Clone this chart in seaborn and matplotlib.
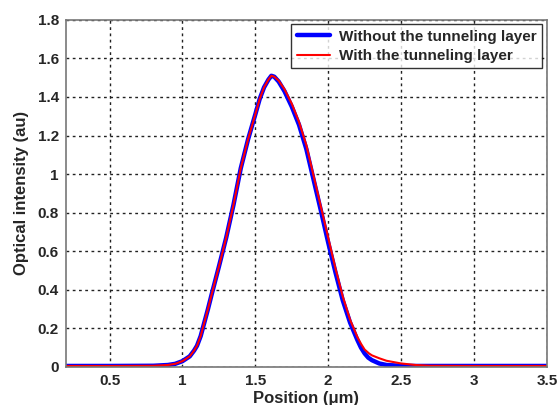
import matplotlib
matplotlib.use("Agg")
import matplotlib.pyplot as plt
import seaborn as sns
import pandas as pd

# Optical field profile across the device (position in µm)
pos_without = [0.2, 0.5, 0.8, 0.9, 0.95, 1.0, 1.05, 1.08, 1.1, 1.125, 1.15, 1.175,
               1.2, 1.25, 1.3, 1.35, 1.4, 1.45, 1.5, 1.53, 1.56, 1.59, 1.61, 1.63,
               1.66, 1.7, 1.75, 1.8, 1.85, 1.9, 1.95, 2.0, 2.05, 2.1, 2.15, 2.2,
               2.225, 2.25, 2.275, 2.3, 2.35, 2.4, 2.5, 2.6, 3.0, 3.5]
int_without = [0.005, 0.005, 0.006, 0.01, 0.016, 0.03, 0.055, 0.085, 0.11, 0.16,
               0.23, 0.30, 0.375, 0.52, 0.67, 0.84, 1.03, 1.18, 1.31, 1.39, 1.45,
               1.49, 1.51, 1.505, 1.48, 1.43, 1.35, 1.255, 1.13, 0.97, 0.81, 0.645,
               0.49, 0.345, 0.23, 0.14, 0.10, 0.07, 0.048, 0.035, 0.018, 0.01,
               0.006, 0.005, 0.005, 0.005]

pos_with = [0.2, 0.5, 0.8, 0.9, 0.95, 1.0, 1.05, 1.08, 1.1, 1.125, 1.15, 1.175,
            1.2, 1.25, 1.3, 1.35, 1.4, 1.45, 1.5, 1.53, 1.56, 1.59, 1.61, 1.63,
            1.66, 1.7, 1.75, 1.8, 1.85, 1.9, 1.95, 2.0, 2.05, 2.1, 2.15, 2.2,
            2.225, 2.25, 2.28, 2.3, 2.35, 2.4, 2.5, 2.6, 2.7, 3.0, 3.5]
int_with = [0.005, 0.005, 0.006, 0.01, 0.016, 0.03, 0.055, 0.085, 0.11, 0.16,
            0.23, 0.30, 0.375, 0.52, 0.67, 0.84, 1.03, 1.18, 1.31, 1.39, 1.45,
            1.49, 1.51, 1.505, 1.485, 1.44, 1.365, 1.27, 1.15, 0.99, 0.83, 0.67,
            0.51, 0.365, 0.245, 0.155, 0.12, 0.09, 0.07, 0.06, 0.045, 0.032,
            0.018, 0.01, 0.006, 0.005, 0.005]

label_without = "Without the tunneling layer"
label_with = "With the tunneling layer"

x_ticks = [0.5, 1, 1.5, 2, 2.5, 3, 3.5]
x_tick_labels = ["0.5", "1", "1.5", "2", "2.5", "3", "3.5"]
y_ticks = [0, 0.2, 0.4, 0.6, 0.8, 1, 1.2, 1.4, 1.6, 1.8]
y_tick_labels = ["0", "0.2", "0.4", "0.6", "0.8", "1", "1.2", "1.4", "1.6", "1.8"]

df_without = pd.DataFrame({"x": pos_without, "y": int_without})
df_with = pd.DataFrame({"x": pos_with, "y": int_with})

sns.set_style("white")
plt.rcParams["font.family"] = ["Liberation Sans", "DejaVu Sans"]
plt.rcParams["font.weight"] = "bold"

fig = plt.figure(figsize=(5.58, 4.05), dpi=100)
ax = fig.add_axes([0.118, 0.094, 0.862, 0.857])

sns.lineplot(data=df_without, x="x", y="y", ax=ax, color="#0000ff", lw=3.2,
             label=label_without)
sns.lineplot(data=df_with, x="x", y="y", ax=ax, color="#ff0000", lw=1.5,
             label=label_with)

ax.set_xlim(0.2, 3.5)
ax.set_ylim(0, 1.8)
ax.set_xticks(x_ticks)
ax.set_xticklabels(x_tick_labels, fontsize=11, fontweight="bold")
ax.set_yticks(y_ticks)
ax.set_yticklabels(y_tick_labels, fontsize=11, fontweight="bold")
ax.grid(True, color="#222222", linestyle=(0, (2, 2.5)), linewidth=1.0)
ax.tick_params(length=0, pad=5)
for s in ax.spines.values():
    s.set_color("#777777")
    s.set_linewidth(1.2)

ax.set_xlabel("Position (\u03bcm)", fontsize=12, fontweight="bold", labelpad=2)
ax.set_ylabel("Optical intensity (au)", fontsize=12, fontweight="bold", labelpad=6)

leg = ax.legend(loc="upper right", fontsize=11, frameon=True, fancybox=False,
                handlelength=2.2, borderaxespad=0.3, borderpad=0.35,
                labelspacing=0.35, handletextpad=0.6)
leg.get_frame().set_edgecolor("black")
leg.get_frame().set_linewidth(1.0)
for t in leg.get_texts():
    t.set_fontweight("bold")

fig.savefig("out.png", dpi=100)
